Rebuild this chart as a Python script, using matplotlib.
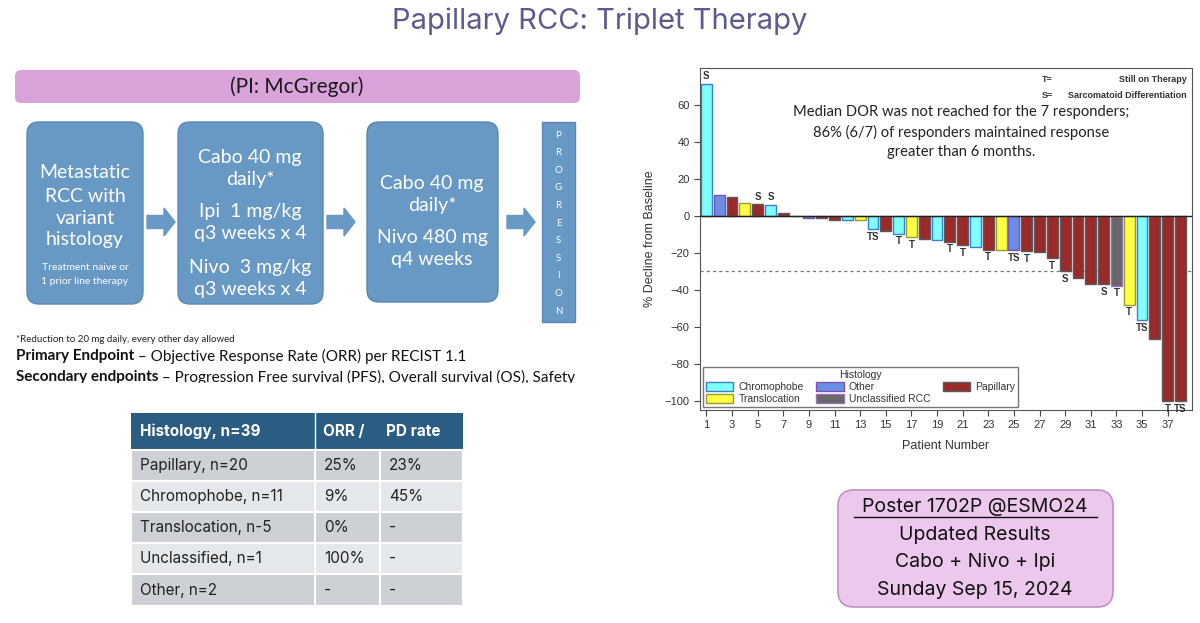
import matplotlib
matplotlib.use("Agg")
import matplotlib.pyplot as plt
import matplotlib.patches as mpatches
from matplotlib.patches import FancyBboxPatch, FancyArrow, Rectangle

# waterfall data
patients = list(range(1, 39))
change = [71.5, 11.5, 10, 6.8, 6.3, 6.1, 1.8, 0, -1, -1, -2, -2, -2, -7, -8.2, -9.6,
          -11.6, -12.3, -13.2, -13.9, -15.9, -17, -18.2, -18.6, -18.6, -18.9, -19.8,
          -22.7, -29.8, -33.6, -36.8, -36.8, -37.7, -48, -56.3, -66.5, -100, -100]
histology = ['C', 'O', 'P', 'Tr', 'P', 'C', 'P', 'P', 'O', 'P', 'P', 'C', 'Tr', 'C',
             'P', 'C', 'Tr', 'P', 'C', 'P', 'P', 'C', 'P', 'Tr', 'O', 'P', 'P', 'P',
             'P', 'P', 'P', 'P', 'U', 'Tr', 'C', 'P', 'P', 'P']
flags = ['S', '', '', '', 'S', 'S', '', '', '', '', '', '', '', 'TS', '', 'T', 'T', '',
         '', 'T', 'T', '', 'T', '', 'TS', 'T', '', 'T', 'S', '', '', 'S', 'T', 'T',
         'TS', '', 'T', 'TS']

hist_names = {'C': 'Chromophobe', 'Tr': 'Translocation', 'O': 'Other',
              'U': 'Unclassified RCC', 'P': 'Papillary'}
hist_style = {'C': ('#80ffff', '#3a7fd0'), 'O': ('#6a8ee8', '#7a50b0'),
              'P': ('#9a2a2a', '#5a5a5a'), 'Tr': ('#ffff44', '#9a9a30'),
              'U': ('#686868', '#9a6fc0')}
legend_order = ['C', 'Tr', 'O', 'U', 'P']

# table data
table_header = ['Histology, n=39', 'ORR /', 'PD rate']
table_hist = ['Papillary, n=20', 'Chromophobe, n=11', 'Translocation, n-5',
              'Unclassified, n=1', 'Other, n=2']
table_orr = ['25%', '9%', '0%', '100%', '-']
table_pd = ['23%', '45%', '-', '-', '-']

W, H = 1200, 623
fig = plt.figure(figsize=(W / 100, H / 100), dpi=100)
fig.patch.set_facecolor('white')

bg = fig.add_axes([0, 0, 1, 1])
bg.set_xlim(0, W)
bg.set_ylim(H, 0)
bg.axis('off')

calibri = ['Lato', 'DejaVu Sans']
aptos = ['Inter', 'DejaVu Sans']
arial = ['Liberation Sans', 'DejaVu Sans']

bg.text(600, 21, 'Papillary RCC: Triplet Therapy', ha='center', va='center',
        fontsize=21, color='#5c5b8e', family=aptos)

# PI bar
bg.add_patch(FancyBboxPatch((15, 70), 565, 33, boxstyle='round,pad=0,rounding_size=6',
                            fc='#d9a3da', ec='none'))
bg.text(297, 87, '(PI: McGregor)', ha='center', va='center', fontsize=15,
        color='#1a1a1a', family=calibri)

blue = '#6898c4'
boxes = [(27, 122, 116, 182), (178, 122, 145, 182), (367, 122, 131, 180)]
for x, y, w, h in boxes:
    bg.add_patch(FancyBboxPatch((x, y), w, h, boxstyle='round,pad=0,rounding_size=12',
                                fc=blue, ec='#5a88b4', lw=1))
for x0 in [147, 327, 507]:
    bg.add_patch(FancyArrow(x0, 222, 28, 0, width=13, head_width=28, head_length=11,
                            length_includes_head=True, color=blue))
bg.add_patch(Rectangle((542, 122), 33, 200, fc=blue, ec='#5a88b4'))
for i, ch in enumerate('PROGRESSION'):
    bg.text(558.5, 135 + i * 17.6, ch, ha='center', va='center', fontsize=7,
            color='white', family=calibri)

def box_lines(x, ys, lines, size):
    for y, t in zip(ys, lines):
        bg.text(x, y, t, ha='center', va='center', fontsize=size, color='white',
                family=calibri)

box_lines(85, [173, 196, 218, 240], ['Metastatic', 'RCC with', 'variant', 'histology'], 14)
box_lines(85, [268, 281], ['Treatment naive or', '1 prior line therapy'], 7.5)
box_lines(250, [158, 180, 212, 234, 267, 289],
          ['Cabo 40 mg', 'daily*', 'Ipi  1 mg/kg', 'q3 weeks x 4', 'Nivo  3 mg/kg',
           'q3 weeks x 4'], 14)
box_lines(432, [184, 206, 238, 260], ['Cabo 40 mg', 'daily*', 'Nivo 480 mg', 'q4 weeks'], 14)

bg.text(16, 340, '*Reduction to 20 mg daily, every other day allowed', ha='left',
        va='center', fontsize=7, color='#222222', family=calibri)
t = bg.text(16, 356, 'Primary Endpoint', ha='left', va='center', fontsize=11,
            fontweight='bold', color='#111111', family=calibri)
bg.annotate(' \u2013 Objective Response Rate (ORR) per RECIST 1.1', xycoords=t,
            xy=(1, 0.5), va='center', ha='left', fontsize=11, color='#111111',
            family=calibri)
t = bg.text(16, 377, 'Secondary endpoints', ha='left', va='center', fontsize=11,
            fontweight='bold', color='#111111', family=calibri)
bg.annotate(' \u2013 Progression Free survival (PFS), Overall survival (OS), Safety',
            xycoords=t, xy=(1, 0.5), va='center', ha='left', fontsize=11,
            color='#111111', family=calibri)
bg.add_patch(Rectangle((0, 383), 600, 14, fc='white', ec='none', zorder=5))

# table
col_x = [131, 315, 380, 463]
row_y = [413, 450, 481, 512, 543, 574, 606]
row_fc = ['#cdd1d6', '#e5e8eb', '#cdd1d6', '#e5e8eb', '#cdd1d6']
bg.add_patch(Rectangle((col_x[0], row_y[0]), col_x[3] - col_x[0], row_y[1] - row_y[0],
                       fc='#2b5d83', ec='none'))
bg.plot([col_x[1], col_x[1]], [row_y[0], row_y[1]], color='white', lw=1)
bg.text(col_x[0] + 9, (row_y[0] + row_y[1]) / 2, table_header[0], ha='left', va='center',
        fontsize=11, fontweight='bold', color='white', family=aptos)
bg.text(col_x[1] + 8, (row_y[0] + row_y[1]) / 2, table_header[1], ha='left', va='center',
        fontsize=11, fontweight='bold', color='white', family=aptos)
bg.text(col_x[2] + 6, (row_y[0] + row_y[1]) / 2, table_header[2], ha='left', va='center',
        fontsize=11, fontweight='bold', color='white', family=aptos)
for i in range(5):
    y0, y1 = row_y[i + 1], row_y[i + 2]
    bg.add_patch(Rectangle((col_x[0], y0), col_x[3] - col_x[0], y1 - y0, fc=row_fc[i],
                           ec='white', lw=1.5))
    for c in (1, 2):
        bg.plot([col_x[c], col_x[c]], [y0, y1], color='white', lw=1.5)
    ym = (y0 + y1) / 2
    for c, txt in enumerate([table_hist[i], table_orr[i], table_pd[i]]):
        bg.text(col_x[c] + 9, ym, txt, ha='left', va='center', fontsize=11,
                color='#222222', family=aptos)

# poster box
bg.add_patch(FancyBboxPatch((838, 490), 275, 117, boxstyle='round,pad=0,rounding_size=16',
                            fc='#ecc9ec', ec='#c48fc4', lw=1.2))
for y, txt in zip([507, 535, 562, 590],
                  ['Poster 1702P @ESMO24', 'Updated Results', 'Cabo + Nivo + Ipi',
                   'Sunday Sep 15, 2024']):
    bg.text(975, y, txt, ha='center', va='center', fontsize=14, color='#111111',
            family=aptos)
bg.plot([854, 1097], [517, 517], color='#111111', lw=1)

# waterfall chart
ax = fig.add_axes([700 / W, 1 - 410 / H, 492 / W, 342 / H])
for p, v, h in zip(patients, change, histology):
    fc, ec = hist_style[h]
    ax.bar(p, v, width=0.85, color=fc, edgecolor=ec, linewidth=1, zorder=2)
for p, v, f in zip(patients, change, flags):
    if f:
        if v > 0:
            ax.text(p, v + 1.2, f, ha='center', va='bottom', fontsize=7,
                    fontweight='bold', color='#333333', family=arial)
        else:
            ax.text(p, v - 1.5, f, ha='center', va='top', fontsize=7,
                    fontweight='bold', color='#333333', family=arial)

ax.axhline(0, color='#222222', lw=1, zorder=3)
ax.axhline(-30, color='#777777', lw=0.9, ls=(0, (2.5, 2.5)), zorder=1)
ax.set_xlim(0.5, 38.9)
ax.set_ylim(-105, 80)
ax.set_xticks(range(1, 38, 2))
ax.set_yticks(range(-100, 61, 20))
ax.tick_params(direction='out', length=4, labelsize=8, colors='#444444',
               labelcolor='#333333')
for lab in ax.get_xticklabels() + ax.get_yticklabels():
    lab.set_family(arial)
for s in ax.spines.values():
    s.set_color('#555555')
ax.set_xlabel('Patient Number', fontsize=9, color='#333333', family=arial, labelpad=7)
ax.set_ylabel('% Decline from Baseline', fontsize=9, color='#333333', family=arial,
              labelpad=6)

ax.text(0.695, 0.965, 'T=', transform=ax.transAxes, ha='left', va='center', fontsize=6.5,
        fontweight='bold', color='#333333', family=arial)
ax.text(0.99, 0.965, 'Still on Therapy', transform=ax.transAxes, ha='right', va='center',
        fontsize=6.5, fontweight='bold', color='#333333', family=arial)
ax.text(0.695, 0.92, 'S=', transform=ax.transAxes, ha='left', va='center', fontsize=6.5,
        fontweight='bold', color='#333333', family=arial)
ax.text(0.99, 0.92, 'Sarcomatoid Differentiation', transform=ax.transAxes, ha='right',
        va='center', fontsize=6.5, fontweight='bold', color='#333333', family=arial)
for y, txt in zip([0.87, 0.812, 0.754],
                  ['Median DOR was not reached for the 7 responders;',
                   '86% (6/7) of responders maintained response',
                   'greater than 6 months.']):
    ax.text(0.53, y, txt, transform=ax.transAxes, ha='center', va='center', fontsize=10.6,
            color='#222222', family=calibri)

handles = [mpatches.Patch(facecolor=hist_style[k][0], edgecolor=hist_style[k][1],
                          label=hist_names[k]) for k in legend_order]
leg = ax.legend(handles=handles, ncol=3, loc='lower left', title='Histology',
                frameon=True, fancybox=False, edgecolor='#555555',
                handlelength=2.6, handleheight=1.0, handletextpad=0.5,
                borderaxespad=0.3, columnspacing=1.2, labelspacing=0.15,
                borderpad=0.3, prop={'family': arial, 'size': 7.5})
leg.get_frame().set_linewidth(1)
leg.get_title().set_family(arial)
leg.get_title().set_fontsize(7.5)
leg.get_title().set_color('#333333')
for txt in leg.get_texts():
    txt.set_color('#333333')

fig.savefig('out.png', dpi=100, facecolor='white')
